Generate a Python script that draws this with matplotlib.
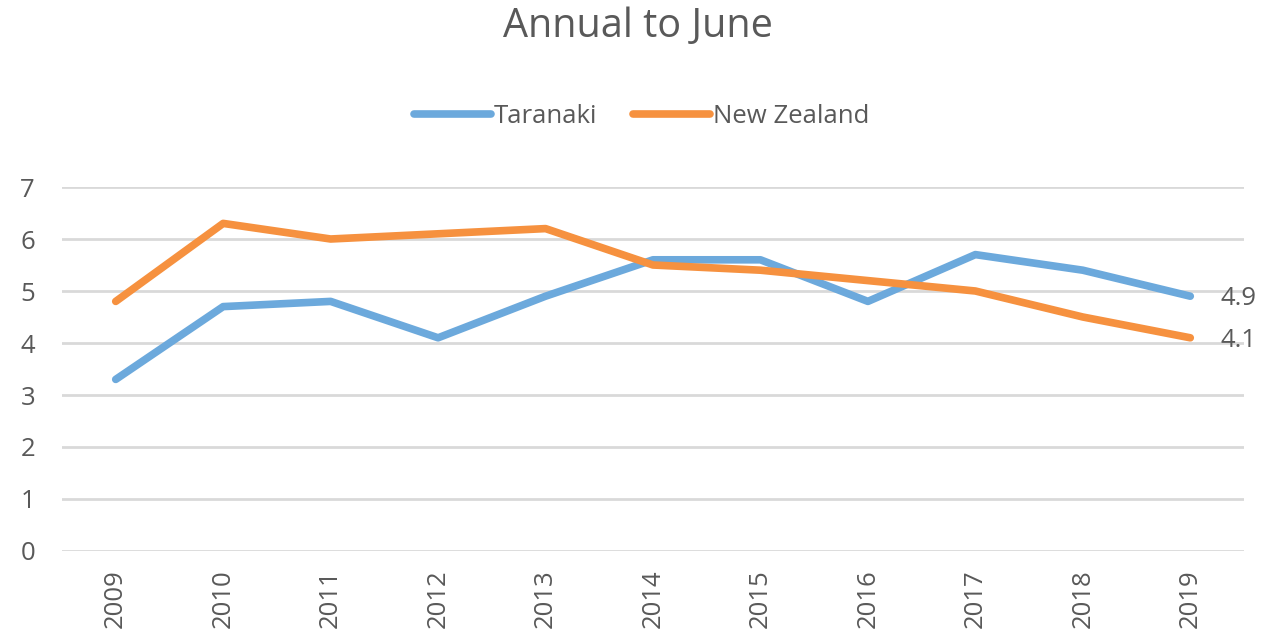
import matplotlib.pyplot as plt

# data
years = ['2009', '2010', '2011', '2012', '2013', '2014', '2015', '2016', '2017', '2018', '2019']
taranaki = [3.3, 4.7, 4.8, 4.1, 4.9, 5.6, 5.6, 4.8, 5.7, 5.4, 4.9]
new_zealand = [4.8, 6.3, 6.0, 6.1, 6.2, 5.5, 5.4, 5.2, 5.0, 4.5, 4.1]

blue = '#6CA9DC'
orange = '#F6913F'
grey = '#595959'

plt.rcParams['font.family'] = ['Open Sans', 'DejaVu Sans']

fig = plt.figure(figsize=(12.61, 6.34), dpi=100)
ax = fig.add_axes([62 / 1261, 83 / 634, (1244 - 62) / 1261, 364 / 634])

x = list(range(len(years)))
ax.plot(x, taranaki, color=blue, lw=5.5, solid_capstyle='round', solid_joinstyle='round', label='Taranaki')
ax.plot(x, new_zealand, color=orange, lw=5.5, solid_capstyle='round', solid_joinstyle='round', label='New Zealand')

# end labels
ax.annotate(f'{taranaki[-1]:.1f}', (x[-1], taranaki[-1]), xytext=(22, -2), textcoords='offset points',
            va='center', ha='left', fontsize=18.5, color=grey)
ax.annotate(f'{new_zealand[-1]:.1f}', (x[-1], new_zealand[-1]), xytext=(22, -2), textcoords='offset points',
            va='center', ha='left', fontsize=18.5, color=grey)

ax.set_xlim(-0.5, len(years) - 0.5)
ax.set_ylim(0, 7)
ax.set_yticks(range(0, 8))
ax.set_xticks(x)
ax.set_xticklabels(years, rotation=90)
ax.tick_params(axis='both', length=0, labelsize=18.5, labelcolor=grey)
ax.tick_params(axis='x', pad=13)
ax.tick_params(axis='y', pad=30)
for lab in ax.get_yticklabels():
    lab.set_horizontalalignment('left')

ax.grid(axis='y', color='#D9D9D9', lw=2.0)
ax.set_axisbelow(True)
for s in ax.spines.values():
    s.set_visible(False)

fig.text(0.506, 0.958, 'Annual to June', ha='center', va='center', fontsize=28.5, color=grey)
fig.legend(loc='center', bbox_to_anchor=(0.509, 0.817), ncol=2, frameon=False, fontsize=18.5,
           handlelength=3.0, handletextpad=0.1, columnspacing=1.4, labelcolor=grey)

fig.savefig('out.png', dpi=100)
